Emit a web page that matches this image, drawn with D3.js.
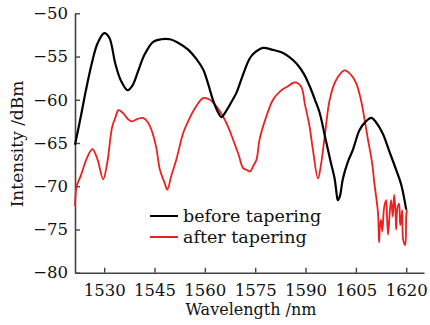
<!DOCTYPE html>
<html>
<head>
<meta charset="utf-8">
<script src="https://cdn.jsdelivr.net/npm/d3@7"></script>
<style>
  html, body { margin: 0; padding: 0; background: #fff; }
  svg { display: block; }
  text { font-family: "DejaVu Serif", serif; fill: #111; }
</style>
</head>
<body>
<svg id="chart" width="430" height="325"></svg>
<script>
// ---- data ----
const seriesNames = ["before tapering", "after tapering"];
const seriesColors = ["#000000", "#ee1f1f"];

const xTicks = [1530, 1545, 1560, 1575, 1590, 1605, 1620];
const yTicks = [-80, -75, -70, -65, -60, -55, -50];

const beforeWavelength = [1521.3, 1523, 1524.5, 1526.3, 1528, 1530, 1531.5, 1533.3, 1535, 1537, 1538.5, 1540, 1542, 1544.6, 1547, 1549.6, 1552, 1555, 1557.5, 1559.5, 1561, 1562.4, 1564, 1564.9, 1566.5, 1568, 1569.4, 1571, 1573.4, 1575, 1577.3, 1580, 1582.8, 1585, 1587.3, 1589.5, 1591.3, 1592.8, 1594.2, 1596, 1597.5, 1598.7, 1599.3, 1599.6, 1600.2, 1601.1, 1602.5, 1604.1, 1606.1, 1608, 1609.6, 1611, 1613, 1615, 1617, 1618.5, 1620];
const beforeIntensity = [-65.2, -62, -59, -55.8, -53.5, -52.3, -52.8, -55.8, -57.8, -58.9, -58.3, -56.8, -54.8, -53.3, -53.0, -53.0, -53.4, -54.2, -55.3, -56.5, -58.2, -60, -61.5, -62.0, -61.2, -60.2, -59.2, -57.5, -55.2, -54.5, -54.0, -54.2, -54.5, -55.0, -55.8, -57.0, -58.5, -60, -61.5, -64.6, -67.2, -69.2, -71, -71.6, -71.2, -69.2, -67.3, -65.8, -63.5, -62.5, -62.1, -62.6, -63.9, -66, -68.1, -69.8, -72.7];

const afterWavelength = [1521.3, 1521.8, 1523, 1525, 1526.5, 1528, 1529.7, 1530.9, 1532.4, 1533.4, 1534.2, 1535.5, 1537, 1538.2, 1540, 1541.6, 1543, 1544.1, 1545.5, 1546.6, 1548, 1548.8, 1550, 1551.5, 1553.5, 1555, 1557, 1559.5, 1561.5, 1563.5, 1565.5, 1566.9, 1568.4, 1570, 1571.4, 1572.4, 1573.4, 1574.5, 1575.4, 1576.3, 1578, 1580.3, 1582.5, 1584.5, 1586.8, 1588.7, 1589.8, 1591.2, 1592.2, 1593.7, 1594.6, 1595.7, 1597.2, 1599, 1601.6, 1603.5, 1605.1, 1606.5, 1607.6, 1608.6, 1609.5, 1610.1, 1610.4, 1611.6, 1611.9, 1612.2, 1612.5, 1612.9, 1613.4, 1614.0, 1614.3, 1614.6, 1615.1, 1615.5, 1616.0, 1616.4, 1616.8, 1617.0, 1617.4, 1617.9, 1618.2, 1618.5, 1618.8, 1619.1, 1619.7, 1620.0, 1620.2];
const afterIntensity = [-72.3, -70.0, -68.8, -66.6, -65.7, -66.9, -69.2, -67.3, -63.1, -62.0, -61.2, -61.5, -62.2, -62.5, -62.2, -62.1, -62.6, -63.5, -65.5, -68.1, -69.6, -70.4, -68.8, -66.9, -63.9, -62.5, -61.0, -59.8, -60.0, -60.8, -62.0, -63.1, -64.6, -66.3, -67.9, -68.1, -68.3, -67.6, -66.9, -64.6, -62.3, -60.0, -59.0, -58.5, -58.0, -58.5, -60.5, -63.1, -65.8, -69.1, -67.5, -64.3, -60.0, -57.8, -56.6, -57.1, -58.1, -60, -62.3, -64.6, -66.5, -68.1, -69.3, -73.1, -76.5, -74.5, -73.9, -75.2, -72.5, -71.6, -73.8, -75.6, -73, -71.6, -73.5, -71.0, -72.8, -75, -72.5, -72, -74.5, -74, -72.8, -76.2, -76.8, -73.5, -72.7];

// ---- layout ----
const svg = d3.select("#chart");
const x = d3.scaleLinear().domain([1521.3, 1625.3]).range([75, 424]);
const y = d3.scaleLinear().domain([-80, -50]).range([272.7, 13.3]);

const axisColor = "#444";

// axes
const gx = svg.append("g").attr("transform", `translate(0,${y(-80)})`)
  .call(d3.axisBottom(x).tickValues(xTicks).tickSizeInner(-5).tickSizeOuter(0).tickPadding(12).tickFormat(d3.format("d")));
const gy = svg.append("g").attr("transform", `translate(${x(1521.3)},0)`)
  .call(d3.axisLeft(y).tickValues(yTicks).tickSizeInner(-5).tickSizeOuter(0).tickPadding(7).tickFormat(d => d3.format("d")(d).replace("-", "\u2212")));

[gx, gy].forEach(g => {
  g.select(".domain").attr("stroke", axisColor).attr("stroke-width", 1.6);
  g.selectAll(".tick line").attr("stroke", axisColor).attr("stroke-width", 1.4);
  g.selectAll(".tick text").attr("font-family", "DejaVu Serif").attr("font-size", 16.5).attr("fill", "#111");
});

// lines
const line = d3.line().curve(d3.curveCatmullRom.alpha(0.5));
const series = [
  { xs: afterWavelength, ys: afterIntensity, color: seriesColors[1], w: 1.8 },
  { xs: beforeWavelength, ys: beforeIntensity, color: seriesColors[0], w: 2.2 }
];
series.forEach(s => {
  svg.append("path")
    .attr("d", line(s.xs.map((v, i) => [x(v), y(s.ys[i])])))
    .attr("fill", "none").attr("stroke", s.color).attr("stroke-width", s.w)
    .attr("stroke-linejoin", "round");
});

// legend
const legend = svg.append("g").attr("transform", "translate(150,216)");
seriesNames.forEach((name, i) => {
  const g = legend.append("g").attr("transform", `translate(0,${i * 21})`);
  g.append("line").attr("x1", 0).attr("x2", 28).attr("y1", 0).attr("y2", 0)
    .attr("stroke", seriesColors[i]).attr("stroke-width", 2);
  g.append("text").attr("x", 33).attr("y", 0).attr("dy", "0.35em")
    .attr("font-size", 17.5).text(name);
});

// axis titles
svg.append("text").attr("x", 251).attr("y", 315).attr("text-anchor", "middle")
  .attr("font-size", 16).text("Wavelength /nm");
svg.append("text").attr("transform", "translate(23,144) rotate(-90)").attr("text-anchor", "middle")
  .attr("font-size", 17).text("Intensity /dBm");
</script>
</body>
</html>
